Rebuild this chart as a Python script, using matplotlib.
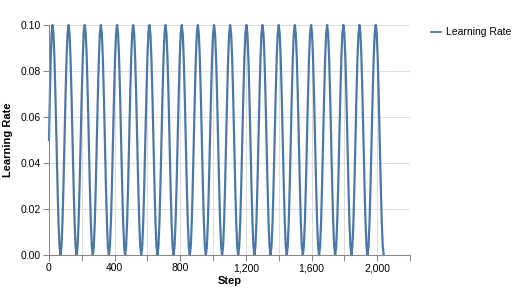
import matplotlib
matplotlib.use('Agg')
import matplotlib.pyplot as plt
from matplotlib.lines import Line2D

plt.rcParams['font.family'] = ['Liberation Sans', 'DejaVu Sans']

# steps where the curve turns (period ~98.5 steps)
start_step, start_lr = 0, 0.05
peak_steps = [21, 119, 218, 316, 415, 513, 612, 710, 809, 907, 1006,
              1104, 1203, 1301, 1400, 1498, 1597, 1695, 1794, 1892, 1991]
trough_steps = [70, 168, 267, 365, 464, 562, 661, 759, 858, 956, 1055,
                1153, 1252, 1350, 1449, 1547, 1646, 1744, 1843, 1941, 2040]
# shape of one falling half-cycle (peak -> trough), estimated from the curve
half_pos = [0.125, 0.25, 0.375, 0.5, 0.625, 0.75, 0.875]
half_lr = [0.0962, 0.0854, 0.0691, 0.05, 0.0309, 0.0146, 0.0038]
# first quarter (start -> first peak)
first_pos = [0.25, 0.5, 0.75]
first_lr = [0.0691, 0.0854, 0.0962]
peak_lr = 0.1
trough_lr = 0.0

steps = [start_step]
lrs = [start_lr]
for f, v in zip(first_pos, first_lr):
    steps.append(start_step + f * (peak_steps[0] - start_step))
    lrs.append(v)
for i, (p, t) in enumerate(zip(peak_steps, trough_steps)):
    steps.append(p)
    lrs.append(peak_lr)
    for f, v in zip(half_pos, half_lr):
        steps.append(p + f * (t - p))
        lrs.append(v)
    steps.append(t)
    lrs.append(trough_lr)
    if i + 1 < len(peak_steps):
        nxt = peak_steps[i + 1]
        for f, v in zip(half_pos, half_lr[::-1]):
            steps.append(t + f * (nxt - t))
            lrs.append(v)

blue = '#4c78a8'
axis_col = '#888888'
grid_col = '#dddddd'

fig = plt.figure(figsize=(5.2, 3.0), dpi=100)
ax = fig.add_axes([49 / 520, 1 - 255 / 300, (410 - 49) / 520, (255 - 25) / 300])

ax.plot(steps, lrs, color=blue, lw=1.6, solid_joinstyle='round', clip_on=False)

ax.set_xlim(0, 2200)
ax.set_ylim(0, 0.1)
ax.set_xticks(range(0, 2001, 400))
ax.set_xticklabels(['0', '400', '800', '1,200', '1,600', '2,000'])
ax.set_xticks(range(0, 2201, 200), minor=True)
ax.set_yticks([0, 0.02, 0.04, 0.06, 0.08, 0.1])
ax.set_yticklabels(['0.00', '0.02', '0.04', '0.06', '0.08', '0.10'])

ax.grid(True, which='both', axis='x', color=grid_col, lw=0.75, zorder=0)
ax.grid(True, which='major', axis='y', color=grid_col, lw=0.75, zorder=0)
ax.set_axisbelow(True)

for s in ['top', 'right']:
    ax.spines[s].set_visible(False)
for s in ['left', 'bottom']:
    ax.spines[s].set_color(axis_col)
    ax.spines[s].set_linewidth(0.75)

ax.tick_params(which='both', color=axis_col, length=4, width=0.75, labelsize=7.5, labelcolor='#000000')
ax.tick_params(axis='x', which='minor', labelbottom=False)
ax.tick_params(axis='x', pad=2)
ax.tick_params(axis='y', pad=2)

ax.set_xlabel('Step', fontsize=8, fontweight='bold', labelpad=2)
ax.set_ylabel('Learning Rate', fontsize=8, fontweight='bold', labelpad=5)

# legend
fig.add_artist(Line2D([431 / 520, 441 / 520], [1 - 32 / 300] * 2, color=blue, lw=1.3))
fig.text(446 / 520, 1 - 32 / 300, 'Learning Rate', fontsize=7.5, va='center', ha='left')

fig.savefig('out.png', dpi=100)
